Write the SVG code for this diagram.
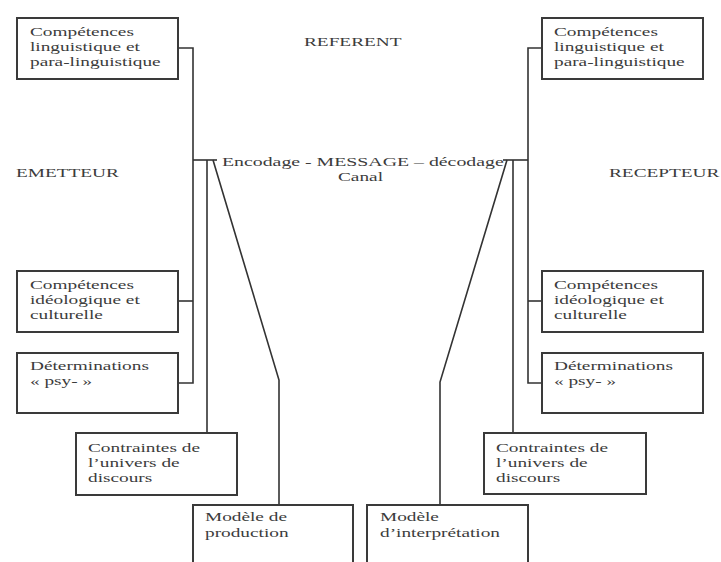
<svg xmlns="http://www.w3.org/2000/svg" width="721" height="562" viewBox="0 0 721 562">
<style>
  .box { fill: #fff; stroke: #3a3a3a; stroke-width: 2; }
  .ln { fill: none; stroke: #333; stroke-width: 1.6; }
  text { font-family: "Liberation Serif", "Times New Roman", serif; font-size: 13.5px; fill: #3c3c3c; }
</style>
<rect width="721" height="562" fill="#fff"/>

<g id="connectors">
  <!-- left -->
  <polyline class="ln" points="178,48 193,48 193,383 178,383"/>
  <line class="ln" x1="178" y1="301" x2="193" y2="301"/>
  <line class="ln" x1="193" y1="160" x2="217" y2="160"/>
  <line class="ln" x1="207" y1="160" x2="207" y2="433"/>
  <polyline class="ln" points="213,160 279,380 279,505"/>
  <!-- right -->
  <polyline class="ln" points="542,48 528,48 528,383 542,383"/>
  <line class="ln" x1="528" y1="301" x2="542" y2="301"/>
  <line class="ln" x1="503" y1="160" x2="528" y2="160"/>
  <line class="ln" x1="513" y1="160" x2="513" y2="433"/>
  <polyline class="ln" points="507,160 440,382 440,505"/>
</g>

<g id="referent"><text transform="translate(304,0) scale(1.43,1)" y="46">REFERENT</text></g>
<g id="emetteur"><text transform="translate(16,0) scale(1.43,1)" y="177">EMETTEUR</text></g>
<g id="recepteur"><text transform="translate(609,0) scale(1.43,1)" y="177">RECEPTEUR</text></g>
<g id="message">
  <text transform="translate(222,0) scale(1.43,1)" y="166" textLength="197" lengthAdjust="spacingAndGlyphs">Encodage - MESSAGE – décodage</text>
  <text transform="translate(338,0) scale(1.43,1)" y="181">Canal</text>
</g>

<g id="l-ling">
  <rect class="box" x="17" y="18" width="161" height="61"/>
  <text transform="translate(30,0) scale(1.43,1)" y="36"><tspan x="0">Compétences</tspan><tspan x="0" dy="15">linguistique et</tspan><tspan x="0" dy="15">para-linguistique</tspan></text>
</g>
<g id="l-ideo">
  <rect class="box" x="17" y="271" width="161" height="61"/>
  <text transform="translate(30,0) scale(1.43,1)" y="289"><tspan x="0">Compétences</tspan><tspan x="0" dy="15">idéologique et</tspan><tspan x="0" dy="15">culturelle</tspan></text>
</g>
<g id="l-psy">
  <rect class="box" x="17" y="353" width="161" height="60"/>
  <text transform="translate(30,0) scale(1.43,1)" y="370"><tspan x="0">Déterminations</tspan><tspan x="0" dy="15.5">« psy- »</tspan></text>
</g>
<g id="l-contr">
  <rect class="box" x="76" y="433" width="161" height="62"/>
  <text transform="translate(88,0) scale(1.43,1)" y="452"><tspan x="0">Contraintes de</tspan><tspan x="0" dy="15">l’univers de</tspan><tspan x="0" dy="15">discours</tspan></text>
</g>
<g id="l-model">
  <path class="box" d="M193,570 L193,505 L353,505 L353,570"/>
  <text transform="translate(205,0) scale(1.43,1)" y="521"><tspan x="0">Modèle de</tspan><tspan x="0" dy="16">production</tspan></text>
</g>

<g id="r-ling">
  <rect class="box" x="542" y="18" width="161" height="61"/>
  <text transform="translate(554,0) scale(1.43,1)" y="36"><tspan x="0">Compétences</tspan><tspan x="0" dy="15">linguistique et</tspan><tspan x="0" dy="15">para-linguistique</tspan></text>
</g>
<g id="r-ideo">
  <rect class="box" x="542" y="271" width="161" height="61"/>
  <text transform="translate(554,0) scale(1.43,1)" y="289"><tspan x="0">Compétences</tspan><tspan x="0" dy="15">idéologique et</tspan><tspan x="0" dy="15">culturelle</tspan></text>
</g>
<g id="r-psy">
  <rect class="box" x="542" y="353" width="161" height="60"/>
  <text transform="translate(554,0) scale(1.43,1)" y="370"><tspan x="0">Déterminations</tspan><tspan x="0" dy="15.5">« psy- »</tspan></text>
</g>
<g id="r-contr">
  <rect class="box" x="484" y="433" width="162" height="61"/>
  <text transform="translate(496,0) scale(1.43,1)" y="452"><tspan x="0">Contraintes de</tspan><tspan x="0" dy="15">l’univers de</tspan><tspan x="0" dy="15">discours</tspan></text>
</g>
<g id="r-model">
  <path class="box" d="M367,570 L367,505 L528,505 L528,570"/>
  <text transform="translate(380,0) scale(1.43,1)" y="521"><tspan x="0">Modèle</tspan><tspan x="0" dy="16">d’interprétation</tspan></text>
</g>
</svg>
